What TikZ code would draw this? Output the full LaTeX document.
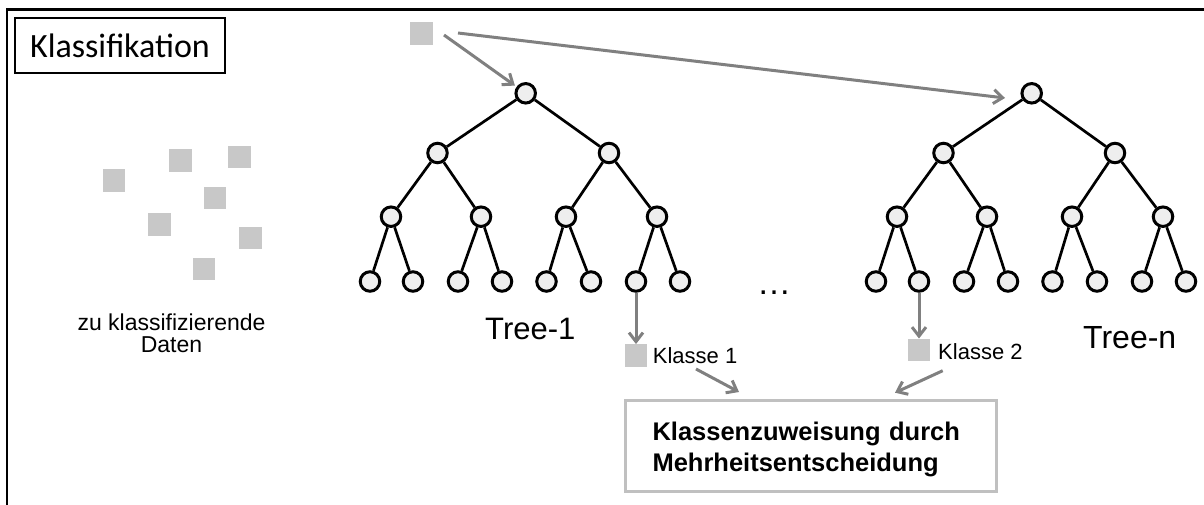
\documentclass[tikz,border=0pt]{standalone}
\usepackage{fontspec}
\setmainfont{Liberation Sans}
\newfontfamily\titlefont{Carlito}
\usetikzlibrary{arrows.meta}

\definecolor{datagray}{HTML}{C8C8C8}
\definecolor{arrowgray}{HTML}{808080}
\definecolor{boxgray}{HTML}{C0C0C0}
\definecolor{nodefill}{HTML}{EEEEEE}

\tikzset{
  datum/.style={rectangle, fill=datagray, draw=none, minimum size=22.5pt, inner sep=0pt},
  tnode/.style={circle, draw=black, fill=nodefill, line width=3pt, minimum size=19.5pt, inner sep=0pt},
  tedge/.style={draw=black, line width=2.7pt},
  arr/.style={draw=arrowgray, line width=3pt, -{Straight Barb[length=9pt,width=14pt]}},
  plain/.style={inner sep=0pt, anchor=base west}
}

\begin{document}
\begin{tikzpicture}[x=1pt, y=-1pt]
\useasboundingbox (0,0) rectangle (1204,505);

% outer frame (open at the right and bottom)
\draw[line width=2.5pt, line join=miter] (7.2,505) -- (7.2,9.5) -- (1204,9.5);

% title box
\node[draw=black, line width=1.5pt, minimum width=210pt, minimum height=55pt, inner sep=0pt,
      font=\titlefont\fontsize{34}{40}\selectfont] (title) at (120,45.5) {Klassifikation};

% data points to be classified
\node[datum] (d1) at (114,180.5) {};
\node[datum] (d2) at (180.5,160.5) {};
\node[datum] (d3) at (239.5,157) {};
\node[datum] (d4) at (215,198) {};
\node[datum] (d5) at (159.5,224.5) {};
\node[datum] (d6) at (250.5,238) {};
\node[datum] (d7) at (204,269) {};
\node[align=center, inner sep=0pt, anchor=base, font=\fontsize{23}{22}\selectfont]
  (dlab) at (171.5,352) {zu klassifizierende\\Daten};

% single sample entering the forest
\node[datum, minimum size=23pt] (inp) at (421,33.5) {};

% two decision trees
\foreach \p/\dx in {a/0, b/506} {
  \node[tnode] (\p0) at (525.7+\dx,93.3) {};
  \node[tnode] (\p1) at (437.5+\dx,153) {};
  \node[tnode] (\p2) at (609+\dx,153) {};
  \node[tnode] (\p3) at (391+\dx,216.7) {};
  \node[tnode] (\p4) at (481+\dx,216.7) {};
  \node[tnode] (\p5) at (566+\dx,216.7) {};
  \node[tnode] (\p6) at (657+\dx,216.7) {};
  \node[tnode] (\p7) at (370+\dx,281.5) {};
  \node[tnode] (\p8) at (413+\dx,281.5) {};
  \node[tnode] (\p9) at (458+\dx,281.5) {};
  \node[tnode] (\p10) at (502+\dx,281.5) {};
  \node[tnode] (\p11) at (546.5+\dx,281.5) {};
  \node[tnode] (\p12) at (591+\dx,281.5) {};
  \node[tnode] (\p13) at (636+\dx,281.5) {};
  \node[tnode] (\p14) at (680+\dx,281.5) {};
  \foreach \u/\v in {0/1,0/2,1/3,1/4,2/5,2/6,3/7,3/8,4/9,4/10,5/11,5/12,6/13,6/14}
    \draw[tedge] (\p\u) -- (\p\v);
}

\node[plain, font=\fontsize{31}{36}\selectfont] (tree1) at (485,339) {Tree-1};
\node[plain, font=\fontsize{32}{36}\selectfont] (treen) at (1083,348) {Tree-n};
\node[inner sep=0pt, anchor=base, font=\fontsize{34}{36}\selectfont] (dots) at (774,294) {…};

% input arrows to the tree roots
\coordinate (in1) at (444,35);
\coordinate (in2) at (458,33);
\coordinate (in2tip) at (1005,98);
\draw[arr, shorten >=2pt] (in1) -- (a0);
\draw[arr] (in2) -- (in2tip);

% votes of the trees
\node[datum] (k1) at (636,355.5) {};
\node[datum] (k2) at (919,350) {};
\node[plain, font=\fontsize{22}{26}\selectfont] (k1lab) at (652.7,363) {Klasse 1};
\node[plain, font=\fontsize{22}{26}\selectfont] (k2lab) at (938,359) {Klasse 2};
\draw[arr] (a13) -- (k1);
\draw[arr] (b8) -- (k2);

% majority vote
\node[draw=boxgray, line width=3pt, minimum width=371pt, minimum height=91pt,
      inner xsep=27pt, inner ysep=0pt, text width=317pt, align=left,
      font=\bfseries\fontsize{25.5}{30.5}\selectfont] (vote) at (811,446)
  {\rule{0pt}{25.7pt}Klassenzuweisung durch\\Mehrheitsentscheidung};

\coordinate (k1out) at (696,369);
\coordinate (k1in) at (739,392);
\coordinate (k2out) at (942.7,370.7);
\coordinate (k2in) at (895,392.7);
\draw[arr] (k1out) -- (k1in);
\draw[arr] (k2out) -- (k2in);

\end{tikzpicture}
\end{document}
